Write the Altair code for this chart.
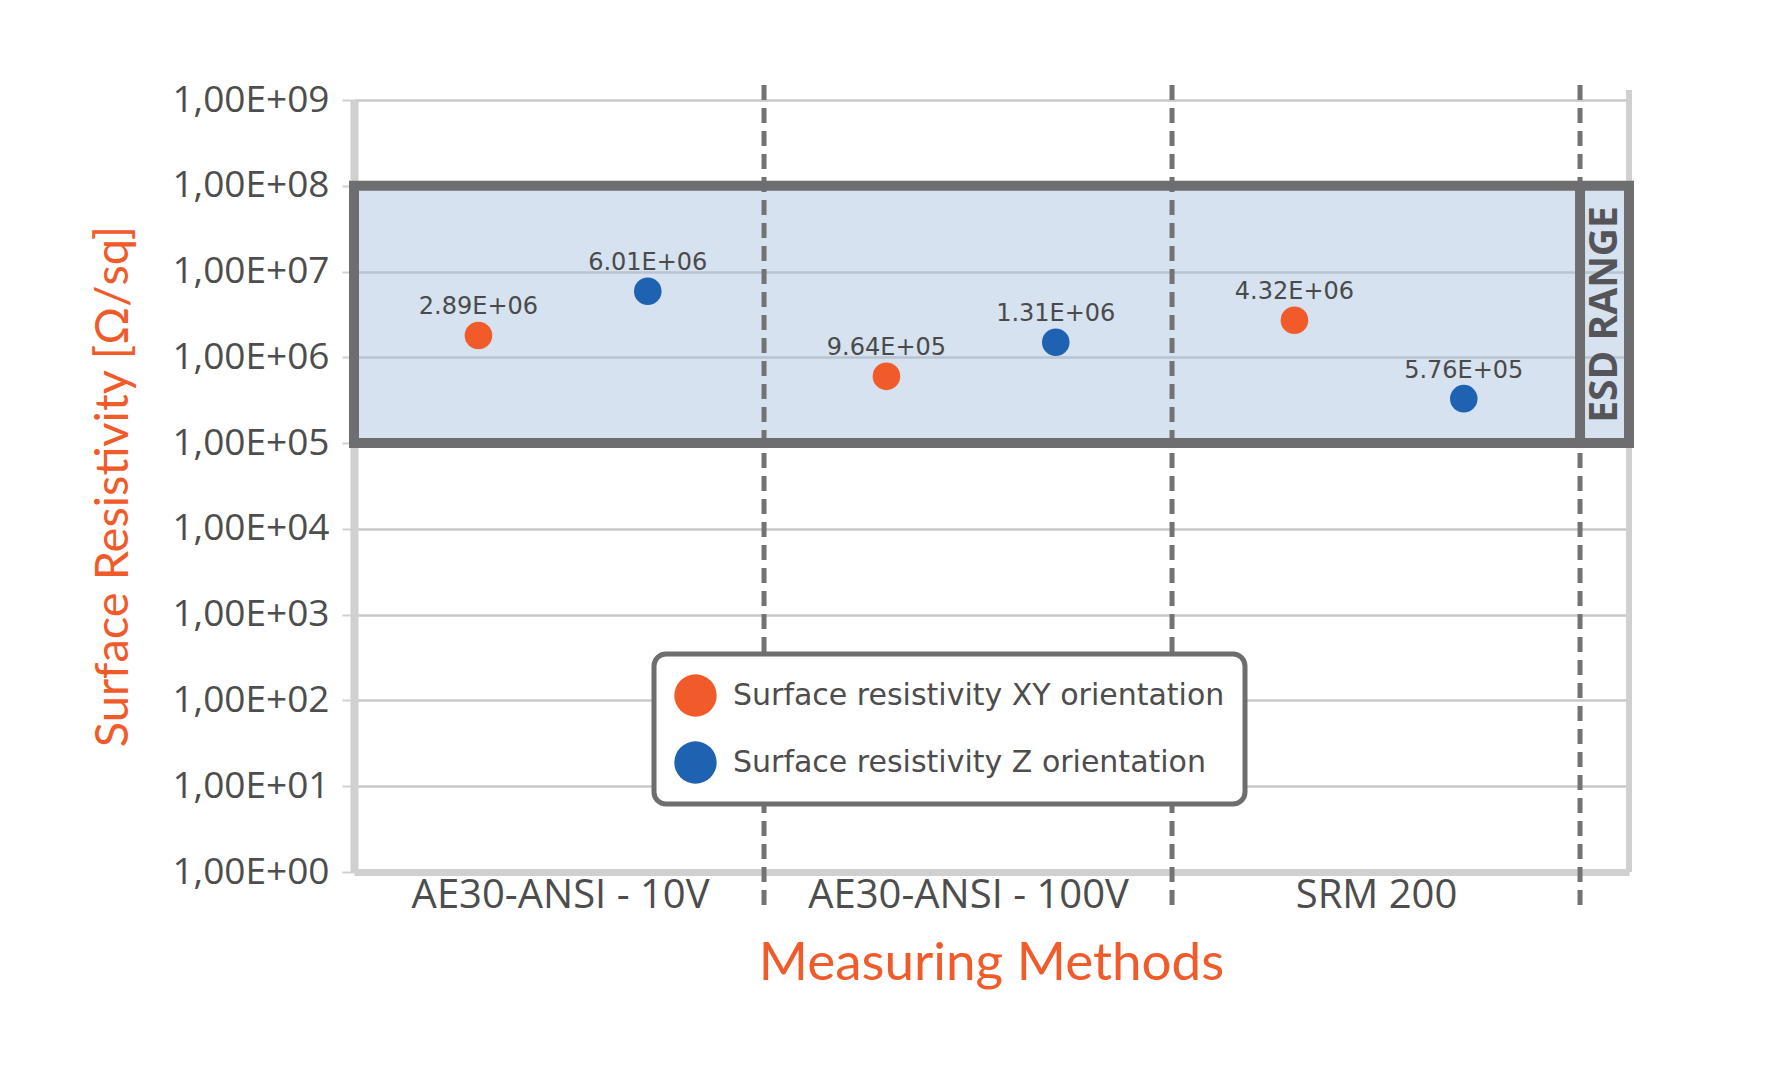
import altair as alt
import pandas as pd

# ---------------- data ----------------
categories = ["AE30-ANSI - 10V", "AE30-ANSI - 100V", "SRM 200"]
series_names = ["Surface resistivity XY orientation", "Surface resistivity Z orientation"]
xy_values = [1.8e6, 6.0e5, 2.7e6]          # plotted positions
z_values = [5.9e6, 1.5e6, 3.3e5]
xy_labels = ["2.89E+06", "9.64E+05", "4.32E+06"]
z_labels = ["6.01E+06", "1.31E+06", "5.76E+05"]
esd_range = [1e5, 1e8]
esd_text = "ESD RANGE"
y_ticks = [1, 10, 100, 1e3, 1e4, 1e5, 1e6, 1e7, 1e8, 1e9]
boundaries = [1, 2, 3]

# ---------------- style ----------------
ORANGE = "#f15a29"
BLUE = "#1f62b2"
BORDER = "#6e6e70"
LIGHT = "#d0d0d0"
TEXT = "#4d4d4d"
X_MIN, X_MAX = -0.005, 3.12
W, H = 1275, 772
series_offsets = [-0.2, 0.215]

rows = []
for s, (name, vals, labs) in enumerate(zip(series_names, [xy_values, z_values], [xy_labels, z_labels])):
    for i, (v, l) in enumerate(zip(vals, labs)):
        rows.append({"pos": i + 0.5 + series_offsets[s], "value": v, "label": l,
                     "series": name, "method": categories[i]})
points_df = pd.DataFrame(rows)

esd_df = pd.DataFrame({"x0": [X_MIN], "x1": [X_MAX], "xd": [boundaries[-1]],
                       "lo": [esd_range[0]], "hi": [esd_range[1]],
                       "tx": [(boundaries[-1] + X_MAX) / 2],
                       "ty": [(esd_range[0] * esd_range[1]) ** 0.5],
                       "t": [esd_text]})
bound_df = pd.DataFrame({"b": boundaries})

xs = alt.Scale(domain=[X_MIN, X_MAX], nice=False, zero=False)
ys = alt.Scale(type="log", domain=[y_ticks[0], y_ticks[-1]], nice=False)

cat_js = "[" + ",".join("'" + c + "'" for c in categories) + "]"

x_axis = alt.Axis(
    values=[i + 0.5 for i in range(len(categories))],
    labelExpr=cat_js + "[floor(datum.value)]",
    labelFont="Open Sans", labelFontSize=40, labelColor=TEXT, labelLimit=0,
    labelPadding=3, labelFlush=False, labelOverlap=False,
    ticks=False, grid=False,
    domainColor=LIGHT, domainWidth=7,
    title="Measuring Methods", titleFont="Lato", titleFontSize=53,
    titleFontWeight="normal", titleColor=ORANGE,
    titleX=637, titleY=91, titleBaseline="middle", titleAlign="center",
)
y_axis = alt.Axis(
    values=y_ticks,
    labelExpr="'1,00E+' + format(round(log(datum.value)/LN10), '02d')",
    labelFont="Open Sans", labelFontSize=37, labelColor=TEXT, labelPadding=13,
    tickColor=LIGHT, tickSize=12, tickWidth=2,
    domainColor=LIGHT, domainWidth=8,
    grid=True, gridColor="#c8c8c8", gridWidth=2.5,
    title="Surface Resistivity [Ω/sq]", titleFont="Lato", titleFontSize=47,
    titleFontWeight="normal", titleColor=ORANGE,
    titleX=-241, titleY=H / 2, titleAngle=270, titleAlign="center", titleBaseline="middle",
)


def X(field):
    return alt.X(field, scale=xs, axis=x_axis)


def Y(field):
    return alt.Y(field, scale=ys, axis=y_axis)


frame = alt.Chart(esd_df).mark_rule(color=LIGHT, strokeWidth=6).encode(
    x=X("x1:Q"),
    y=alt.value(-10), y2=alt.value(H),
)

esd_fill = alt.Chart(esd_df).mark_rect(fill="#a4bfdb", fillOpacity=0.45, strokeWidth=0).encode(
    x=X("x0:Q"), x2="x1:Q",
    y=Y("lo:Q"), y2="hi:Q",
)

dashes = alt.Chart(bound_df).mark_rule(color="#737373", strokeWidth=5, strokeDash=[15, 8]).encode(
    x=X("b:Q"),
    y=alt.value(-15), y2=alt.value(H + 39),
)

esd_border = alt.Chart(esd_df).mark_rect(fillOpacity=0, stroke=BORDER, strokeWidth=10).encode(
    x=X("x0:Q"), x2="x1:Q",
    y=Y("lo:Q"), y2="hi:Q",
)

divider = alt.Chart(esd_df).mark_rule(color=BORDER, strokeWidth=10).encode(
    x=X("xd:Q"),
    y=Y("lo:Q"), y2="hi:Q",
)

esd_label = alt.Chart(esd_df).mark_text(
    angle=270, font="Open Sans", fontSize=39, fontWeight="bold", color="#555559",
    align="center", baseline="middle",
).encode(
    x=X("tx:Q"),
    y=Y("ty:Q"),
    text="t:N",
)

points = alt.Chart(points_df).mark_circle(size=760, opacity=1).encode(
    x=X("pos:Q"),
    y=Y("value:Q"),
    color=alt.Color(
        "series:N",
        scale=alt.Scale(domain=series_names, range=[ORANGE, BLUE]),
        legend=alt.Legend(
            title=None, orient="none", legendX=300, legendY=554,
            fillColor="white", strokeColor=BORDER, cornerRadius=12,
            padding=20, symbolType="circle", symbolSize=1800, symbolStrokeWidth=0,
            symbolOpacity=1, labelFont="DejaVu Sans", labelFontSize=30,
            labelColor=TEXT, labelOffset=16, rowPadding=24, labelLimit=0,
        ),
    ),
)

labels = alt.Chart(points_df).mark_text(
    dy=-28, font="DejaVu Sans", fontSize=24, color="#4a4a4a",
).encode(
    x=X("pos:Q"),
    y=Y("value:Q"),
    text="label:N",
)

chart = alt.layer(
    frame, esd_fill, dashes, esd_border, divider, esd_label, points, labels
).properties(
    width=W, height=H,
    autosize=alt.AutoSizeParams(type="none"),
    padding={"left": 346, "top": 92, "right": 140, "bottom": 190},
    background="white",
).configure_view(strokeWidth=0).configure_legend(strokeWidth=5)

chart.save("out.html", embed_options={"renderer": "svg", "actions": False})
